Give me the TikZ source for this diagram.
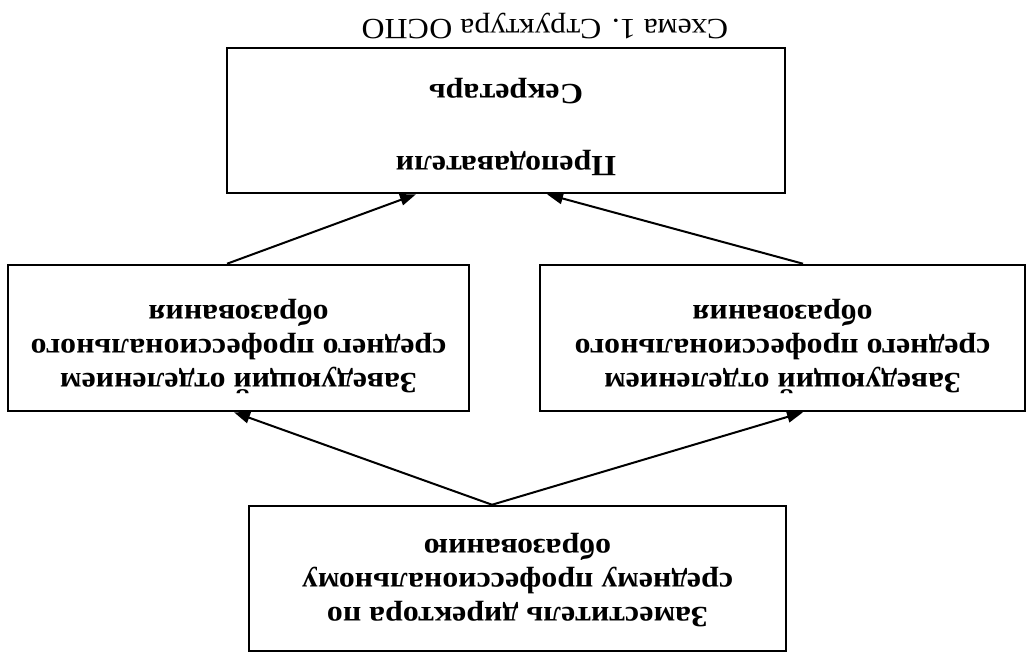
\documentclass[tikz,border=0pt]{standalone}
\usepackage{fontspec}
\usepackage{graphicx}
\setmainfont{Liberation Serif}[FakeStretch=1.085]
\usetikzlibrary{arrows.meta}
\tikzset{
  box/.style={draw, line width=1.9pt, rectangle, inner sep=0pt, align=center},
  arr/.style={line width=1.5pt, -{Triangle[length=12pt,width=8.5pt]}},
  boxtext/.style={font=\fontsize{22}{25.5}\selectfont\bfseries}
}
\newcommand{\upsd}[1]{\rotatebox{180}{#1}}
\begin{document}
\begin{tikzpicture}[x=0.75pt,y=-0.75pt]
\useasboundingbox[fill=white] (0,0) rectangle (1032,660);
\node[font=\fontsize{22}{25.5}\selectfont] (cap) at (545,26) {\upsd{Схема 1. Структура ОСПО}};
\node[box, minimum width=418.5pt, minimum height=108.75pt, boxtext] (top) at (506,120.5)
  {\upsd{\begin{tabular}{c}Преподаватели\\[29pt]Секретарь\\[10pt]\end{tabular}}};
\node[box, minimum width=345.75pt, minimum height=109.5pt, boxtext] (left) at (238.5,338)
  {\upsd{\begin{tabular}{c}Заведующий отделением\\среднего профессионального\\образования\\[12pt]\end{tabular}}};
\node[box, minimum width=363.75pt, minimum height=109.5pt, boxtext] (right) at (782.5,338)
  {\upsd{\begin{tabular}{c}Заведующий отделением\\среднего профессионального\\образования\\[12pt]\end{tabular}}};
\node[box, minimum width=402.75pt, minimum height=108.75pt, boxtext] (bot) at (517.5,578.5)
  {\upsd{\begin{tabular}{c}Заместитель директора по\\среднему профессиональному\\образованию\\[3pt]\end{tabular}}};
\draw[arr] ([xshift=-19.1pt]bot.north) -- ([xshift=-3.4pt]left.south);
\draw[arr] ([xshift=-19.1pt]bot.north) -- ([xshift=15.4pt]right.south);
\draw[arr] ([xshift=-8.6pt]left.north) -- ([xshift=-67.5pt]top.south);
\draw[arr] ([xshift=15.4pt]right.north) -- ([xshift=30.75pt]top.south);
\end{tikzpicture}
\end{document}
